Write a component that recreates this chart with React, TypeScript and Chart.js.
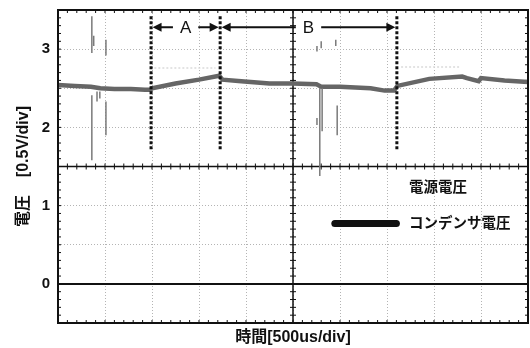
import React, { useEffect, useRef } from 'react';
import { Chart, registerables } from 'chart.js';

Chart.register(...registerables);

const FONT = '"Liberation Sans", "Noto Sans CJK JP", Arial, sans-serif';

// Supply voltage trace (time in divisions, volts)
const timeDiv = [0, 0.36, 0.7, 0.9, 1.2, 1.55, 1.85, 1.97, 2.0, 2.5, 3.0, 3.43, 3.5, 3.9, 4.5, 5.0, 5.5, 5.6, 6.0, 6.65, 6.95, 7.15, 7.22, 7.9, 8.6, 8.7, 8.95, 9.0, 9.5, 10];
const supplyVolt = [2.54, 2.53, 2.52, 2.5, 2.49, 2.49, 2.48, 2.48, 2.5, 2.56, 2.61, 2.66, 2.61, 2.59, 2.56, 2.56, 2.55, 2.52, 2.52, 2.5, 2.47, 2.47, 2.53, 2.62, 2.65, 2.63, 2.59, 2.63, 2.6, 2.58];

// Capacitor voltage trace
const capTime = [0, 10];
const capVolt = [0, 0];

// Switching noise spikes
const spikeTime = [0.72, 0.76, 0.72, 0.83, 0.89, 1.02, 1.02, 5.51, 5.6, 5.91, 5.57, 5.62, 5.51, 5.94];
const spikeHigh = [3.42, 3.17, 2.41, 2.46, 2.46, 3.12, 2.33, 3.04, 3.1, 3.12, 2.5, 2.5, 2.12, 2.28];
const spikeLow = [2.95, 3.04, 1.58, 2.33, 2.37, 2.92, 1.9, 2.97, 3.01, 3.04, 1.38, 1.95, 2.03, 1.9];

// Faint afterglow segments
const ghostStart = [2.05, 7.3];
const ghostEnd = [3.35, 8.55];
const ghostVolt = [2.76, 2.77];

// Interval markers
const markerTime = [1.98, 3.45, 7.21];
const markerHigh = 3.42;
const markerLow = 1.7;
const arrowVolt = 3.28;
const spanNames = ['A', 'B'];

const yTickValues = [0, 1, 2, 3];
const legendNames = ['電源電圧', 'コンデンサ電圧'];
const legendVolt = [1.22, 0.77];
const legendTextTime = 7.47;
const legendLineTime = [5.89, 7.2];

const scopePlugin = {
  id: 'scope',
  beforeDatasetsDraw(chart: any) {
    const { ctx, chartArea: a, scales } = chart;
    const xs = scales.x, ys = scales.y;
    ctx.save();
    ctx.strokeStyle = '#111';
    ctx.lineWidth = 1.5;
    const cx = xs.getPixelForValue(5);
    const cy = ys.getPixelForValue(1.5);
    ctx.beginPath();
    ctx.moveTo(a.left, cy); ctx.lineTo(a.right, cy);
    ctx.moveTo(cx, a.top); ctx.lineTo(cx, a.bottom);
    ctx.stroke();
    ctx.lineWidth = 1;
    ctx.beginPath();
    for (let t = 0; t <= 50; t++) {
      const x = xs.getPixelForValue(t * 0.2);
      ctx.moveTo(x, cy - 3); ctx.lineTo(x, cy + 3);
      ctx.moveTo(x, a.bottom); ctx.lineTo(x, a.bottom - 3);
      ctx.moveTo(x, a.top); ctx.lineTo(x, a.top + 3);
    }
    for (let t = 0; t <= 40; t++) {
      const y = ys.getPixelForValue(-0.5 + t * 0.1);
      ctx.moveTo(cx - 3, y); ctx.lineTo(cx + 3, y);
      ctx.moveTo(a.left, y); ctx.lineTo(a.left + 3, y);
      ctx.moveTo(a.right, y); ctx.lineTo(a.right - 3, y);
    }
    ctx.stroke();
    ctx.restore();
  },
  afterDatasetsDraw(chart: any) {
    const { ctx, chartArea: a, scales } = chart;
    const xs = scales.x, ys = scales.y;
    ctx.save();
    // frame
    ctx.strokeStyle = '#111';
    ctx.lineWidth = 2;
    ctx.strokeRect(a.left, a.top, a.right - a.left, a.bottom - a.top);

    // dotted markers
    ctx.lineWidth = 3;
    ctx.setLineDash([3, 2]);
    ctx.beginPath();
    markerTime.forEach((t) => {
      const x = xs.getPixelForValue(t);
      ctx.moveTo(x, ys.getPixelForValue(markerHigh));
      ctx.lineTo(x, ys.getPixelForValue(markerLow));
    });
    ctx.stroke();
    ctx.setLineDash([]);

    // arrows
    const ay = ys.getPixelForValue(arrowVolt);
    ctx.font = '17px ' + FONT;
    ctx.fillStyle = '#111';
    ctx.textAlign = 'center';
    ctx.textBaseline = 'middle';
    ctx.lineWidth = 2;
    spanNames.forEach((name, i) => {
      const x0 = xs.getPixelForValue(markerTime[i]) + 1.5;
      const x1 = xs.getPixelForValue(markerTime[i + 1]) - 1.5;
      const mid = (x0 + x1) / 2;
      const gap = ctx.measureText(name).width / 2 + 7;
      ctx.beginPath();
      ctx.moveTo(x0 + 4, ay); ctx.lineTo(mid - gap, ay);
      ctx.moveTo(mid + gap, ay); ctx.lineTo(x1 - 4, ay);
      ctx.stroke();
      ctx.beginPath();
      ctx.moveTo(x0, ay); ctx.lineTo(x0 + 9, ay - 4.5); ctx.lineTo(x0 + 9, ay + 4.5); ctx.closePath();
      ctx.moveTo(x1, ay); ctx.lineTo(x1 - 9, ay - 4.5); ctx.lineTo(x1 - 9, ay + 4.5); ctx.closePath();
      ctx.fill();
      ctx.fillText(name, mid, ay + 1);
    });

    // legend
    ctx.lineWidth = 7;
    ctx.lineCap = 'round';
    ctx.beginPath();
    ctx.moveTo(xs.getPixelForValue(legendLineTime[0]), ys.getPixelForValue(legendVolt[1]));
    ctx.lineTo(xs.getPixelForValue(legendLineTime[1]), ys.getPixelForValue(legendVolt[1]));
    ctx.stroke();
    ctx.font = 'bold 14.5px ' + FONT;
    ctx.textAlign = 'left';
    legendNames.forEach((n, i) => {
      ctx.fillText(n, xs.getPixelForValue(legendTextTime), ys.getPixelForValue(legendVolt[i]));
    });
    ctx.restore();
  },
};

export default function App() {
  const ref = useRef<HTMLCanvasElement>(null);
  useEffect(() => {
    const mainPts = timeDiv.map((t, i) => ({ x: t, y: supplyVolt[i] }));
    const capPts = capTime.map((t, i) => ({ x: t, y: capVolt[i] }));
    const spikePts: any[] = [];
    spikeTime.forEach((t, i) => {
      spikePts.push({ x: t, y: spikeHigh[i] }, { x: t, y: spikeLow[i] }, { x: t, y: null });
    });
    const ghostPts: any[] = [];
    ghostStart.forEach((s, i) => {
      ghostPts.push({ x: s, y: ghostVolt[i] }, { x: ghostEnd[i], y: ghostVolt[i] }, { x: ghostEnd[i], y: null });
    });
    const grid = { color: '#b4b4b4', lineWidth: 1, drawTicks: false };
    const chart = new Chart(ref.current!, {
      type: 'line',
      data: {
        datasets: [
          { label: 'ghost', data: ghostPts, borderColor: '#dadada', borderWidth: 1.5, borderDash: [2, 2], pointRadius: 0, spanGaps: false },
          { label: 'spikes', data: spikePts, borderColor: '#7a7a7a', borderWidth: 1.5, pointRadius: 0, spanGaps: false },
          { label: legendNames[0], data: mainPts, borderColor: '#666666', borderWidth: 4.5, pointRadius: 0, tension: 0 },
          { label: legendNames[1], data: capPts, borderColor: '#111', borderWidth: 2, pointRadius: 0 },
        ],
      },
      options: {
        animation: false,
        responsive: false,
        maintainAspectRatio: false,
        layout: { padding: { top: 10, right: 2, left: 0, bottom: 0 } },
        plugins: { legend: { display: false }, tooltip: { enabled: false } },
        scales: {
          x: {
            type: 'linear',
            min: 0,
            max: 10,
            ticks: { display: false, stepSize: 1 },
            grid,
            border: { display: false, dash: [1, 2] },
            title: { display: true, text: '時間[500us/div]', color: '#111', font: { family: FONT, size: 16, weight: 'bold' }, padding: { top: 0, bottom: 1 } },
            afterFit: (s: any) => { s.height = 25; s.paddingLeft = 0; s.paddingRight = 0; },
          },
          y: {
            type: 'linear',
            min: -0.5,
            max: 3.5,
            ticks: {
              stepSize: 0.5,
              padding: 8,
              color: '#111',
              font: { family: FONT, size: 15, weight: 'bold' },
              callback: (v: any) => (yTickValues.includes(Number(v)) ? String(v) : ''),
            },
            grid,
            border: { display: false, dash: [1, 2] },
            title: { display: true, text: '電圧    [0.5V/div]', color: '#111', font: { family: FONT, size: 16, weight: 'bold' }, padding: { top: 14, bottom: 0 } },
            afterFit: (s: any) => { s.width = 58; s.paddingTop = 0; s.paddingBottom = 0; },
          },
        },
      },
      plugins: [scopePlugin],
    } as any);
    return () => chart.destroy();
  }, []);
  return (
    <div style={{ position: 'absolute', left: 0, top: 0, width: 530, height: 348, background: '#fff' }}>
      <canvas ref={ref} width={530} height={348} />
    </div>
  );
}
